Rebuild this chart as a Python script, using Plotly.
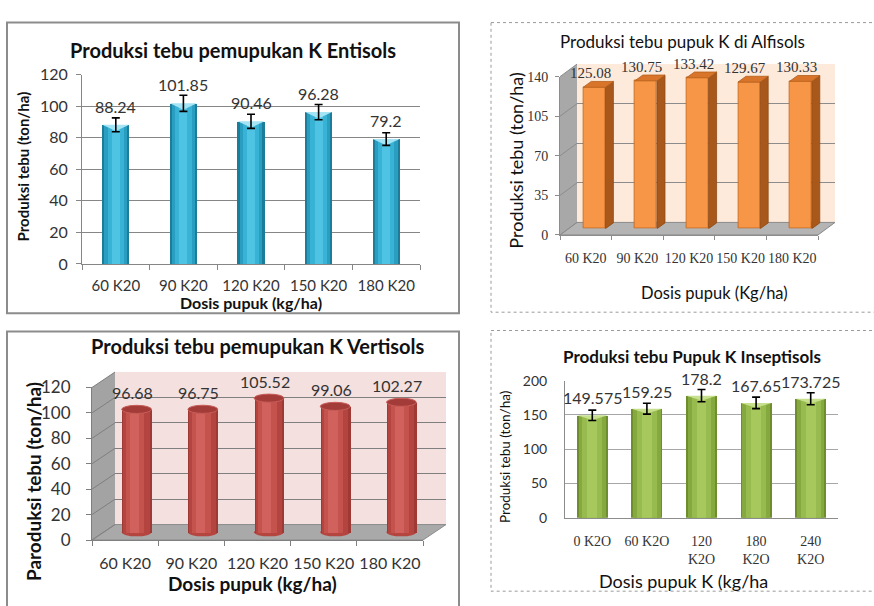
import plotly.graph_objects as go

W, H = 874, 606

# ------------------------------------------------------------------ data
entisol_doses = ["60 K20", "90 K20", "120 K20", "150 K20", "180 K20"]
entisol_yield = [88.24, 101.85, 90.46, 96.28, 79.2]
entisol_err = [4.4, 5.1, 4.5, 4.8, 4.0]

alfisol_doses = ["60 K20", "90 K20", "120 K20", "150 K20", "180 K20"]
alfisol_yield = [125.08, 130.75, 133.42, 129.67, 130.33]

vertisol_doses = ["60 K20", "90 K20", "120 K20", "150 K20", "180 K20"]
vertisol_yield = [96.68, 96.75, 105.52, 99.06, 102.27]

inseptisol_doses = ["0 K2O", "60 K2O", "120<br>K2O", "180<br>K2O", "240<br>K2O"]
inseptisol_yield = [149.575, 159.25, 178.2, 167.65, 173.725]
inseptisol_err = [7.5, 8.0, 8.9, 8.4, 8.7]

SANS = "Lato, 'Open Sans', sans-serif"
SERIF = "'Liberation Serif', 'DejaVu Serif', serif"
INK = "#111111"
TICK_INK = "#333333"

cats = list(range(5))
XR = [-0.5, 4.5]
BOUNDS = [k - 0.5 for k in range(6)]


def fx(px):
    return px / W


def fy(py):
    return 1 - py / H


fig = go.Figure()
layout_axes = {}
annotations = []
shapes = []


def add_axes(n, left, right, top, bottom, xrange, yrange, xopts=None, yopts=None):
    xid = "x" if n == 1 else f"x{n}"
    yid = "y" if n == 1 else f"y{n}"
    base = dict(showgrid=False, zeroline=False, showticklabels=False, ticks="",
                showline=False, fixedrange=True)
    xa = dict(base, domain=[fx(left), fx(right)], range=xrange, anchor=yid)
    ya = dict(base, domain=[fy(bottom), fy(top)], range=yrange, anchor=xid)
    xa.update(xopts or {})
    ya.update(yopts or {})
    layout_axes["xaxis" if n == 1 else f"xaxis{n}"] = xa
    layout_axes["yaxis" if n == 1 else f"yaxis{n}"] = ya
    # anchor trace so the subplot is always created
    fig.add_trace(go.Scatter(x=[0], y=[0], mode="markers", marker=dict(size=1, opacity=0),
                             xaxis=xid, yaxis=yid, hoverinfo="skip"))
    return xid, yid


def shaded_bars(xid, yid, values, layers):
    for width, color, shift in layers:
        fig.add_trace(go.Bar(x=cats, y=values, width=width, offset=-width / 2 + shift,
                             marker=dict(color=color, line=dict(width=0)),
                             xaxis=xid, yaxis=yid, hoverinfo="skip"))


def bevel(xid, yid, values, width, depth, color):
    xs, ys = [], []
    for i, v in enumerate(values):
        xs += [i - width / 2, i + width / 2, i, i - width / 2, None]
        ys += [v, v, v - depth, v, None]
    fig.add_trace(go.Scatter(x=xs, y=ys, mode="lines", fill="toself", fillcolor=color,
                             line=dict(width=0), xaxis=xid, yaxis=yid, hoverinfo="skip"))


def error_marks(xid, yid, values, errs):
    fig.add_trace(go.Scatter(x=cats, y=values, mode="markers",
                             marker=dict(size=2, color="rgba(0,0,0,0)"),
                             error_y=dict(type="data", array=errs, color="#000000",
                                          thickness=1.6, width=4),
                             xaxis=xid, yaxis=yid, hoverinfo="skip"))


def value_labels(xid, yid, values, family, size, yshift, xshift=0):
    for i, v in enumerate(values):
        annotations.append(dict(x=i, y=v, xref=xid, yref=yid, text=str(v), showarrow=False,
                                xanchor="center", yanchor="bottom", yshift=yshift,
                                xshift=xshift, font=dict(family=family, size=size, color=TICK_INK)))


def text(x, y, s, size, bold=False, angle=0, family=SANS):
    annotations.append(dict(x=fx(x), y=fy(y), xref="paper", yref="paper", showarrow=False,
                            text=f"<b>{s}</b>" if bold else s, textangle=angle,
                            xanchor="center", yanchor="middle",
                            font=dict(family=family, size=size, color=INK)))


def frame(x0, y0, x1, y1, color, width, dash="solid"):
    shapes.append(dict(type="rect", xref="paper", yref="paper", x0=fx(x0), y0=fy(y0),
                       x1=fx(x1), y1=fy(y1), line=dict(color=color, width=width, dash=dash),
                       fillcolor="rgba(0,0,0,0)", layer="below"))


def room(front, depth, ymax, dtick, back_color, side_color, floor_color, grid_color):
    """Back wall, side wall and floor of a 3-D column chart (paper coordinates)."""
    x0, x1, yt, yb = front
    dx, dy = depth
    shapes.append(dict(type="rect", xref="paper", yref="paper", x0=fx(x0 + dx), x1=fx(x1 + dx),
                       y0=fy(yb + dy), y1=fy(yt + dy), fillcolor=back_color,
                       line=dict(width=0), layer="below"))
    side = (f"M{fx(x0)},{fy(yb)} L{fx(x0)},{fy(yt)} L{fx(x0 + dx)},{fy(yt + dy)} "
            f"L{fx(x0 + dx)},{fy(yb + dy)} Z")
    shapes.append(dict(type="path", path=side, xref="paper", yref="paper",
                       fillcolor=side_color, line=dict(width=0), layer="below"))
    floor = (f"M{fx(x0)},{fy(yb)} L{fx(x1)},{fy(yb)} L{fx(x1 + dx)},{fy(yb + dy)} "
             f"L{fx(x0 + dx)},{fy(yb + dy)} Z")
    shapes.append(dict(type="path", path=floor, xref="paper", yref="paper",
                       fillcolor=floor_color, line=dict(color="#8a8a8a", width=1), layer="below"))
    for v in range(0, ymax + 1, dtick):
        py = yb - (yb - yt) * v / ymax
        shapes.append(dict(type="line", xref="paper", yref="paper", x0=fx(x0), y0=fy(py),
                           x1=fx(x0 + dx), y1=fy(py + dy),
                           line=dict(color=grid_color, width=1), layer="below"))


# ================================================================ panel 1: Entisols
frame(7, 12, 459, 313, "#8c8c8c", 2)
g1 = "#868686"
x1, y1 = add_axes(
    1, 82, 420, 66, 262, XR, [0, 120],
    xopts=dict(showline=True, linecolor=g1, showticklabels=True, tickmode="array",
               tickvals=cats, ticktext=entisol_doses, ticks="outside", ticklen=8,
               tickcolor="rgba(0,0,0,0)", tickfont=dict(family=SANS, size=15, color=TICK_INK),
               minor=dict(tickmode="array", tickvals=BOUNDS, ticks="outside", ticklen=5,
                          tickcolor=g1)),
    yopts=dict(showline=True, linecolor=g1, showgrid=True, gridcolor=g1, showticklabels=True,
               tickmode="linear", tick0=0, dtick=20, ticks="outside", ticklen=5, tickcolor=g1,
               tickfont=dict(family=SANS, size=16, color=TICK_INK), ticklabelstandoff=5))
shaded_bars(x1, y1, entisol_yield, [(0.40, "#1b7d99", 0), (0.34, "#2a9ec0", 0),
                                    (0.24, "#38b2d5", 0), (0.12, "#4fc3e3", 0)])
bevel(x1, y1, entisol_yield, 0.40, 4.0, "#a4e4f4")
error_marks(x1, y1, entisol_yield, entisol_err)
value_labels(x1, y1, entisol_yield, SANS, 16, 7)
text(233, 40, "Produksi tebu pemupukan K Entisols", 20, bold=True)
text(23, 161, "Produksi tebu (ton/ha)", 15, bold=True, angle=-90)
text(251, 302, "Dosis pupuk (kg/ha)", 16, bold=True)

# ================================================================ panel 2: Alfisols (3-D)
frame(491, 12, 890, 312, "#9a9a9a", 1, "dot")
F2, D2, YM2, DT2 = (560, 818, 68, 232), (17, -13), 140, 35
room(F2, D2, YM2, DT2, "#fdeadb", "#a8a8a8", "#b4b4b4", "#8c8c8c")
add_axes(2, F2[0] + D2[0], F2[1] + D2[0], F2[2] + D2[1], F2[3] + D2[1], XR, [0, YM2],
         yopts=dict(showgrid=True, gridcolor="#8c8c8c", tickmode="linear", tick0=0, dtick=DT2))
add_axes(3, F2[0], F2[1], F2[2], F2[3], XR, [0, YM2],
         xopts=dict(showline=True, linecolor="#8c8c8c", showticklabels=True, tickmode="array",
                    tickvals=cats, ticktext=alfisol_doses, ticks="outside", ticklen=10,
                    tickcolor="rgba(0,0,0,0)",
                    tickfont=dict(family=SERIF, size=14, color=TICK_INK),
                    minor=dict(tickmode="array", tickvals=BOUNDS, ticks="outside", ticklen=4,
                               tickcolor="#8c8c8c")),
         yopts=dict(showline=True, linecolor="#8c8c8c", showticklabels=True, tickmode="linear",
                    tick0=0, dtick=DT2, ticks="outside", ticklen=4, tickcolor="#8c8c8c",
                    tickfont=dict(family=SERIF, size=14, color=TICK_INK), ticklabelstandoff=4))
x4, y4 = add_axes(4, F2[0] + D2[0] / 2, F2[1] + D2[0] / 2, F2[2] + D2[1] / 2,
                  F2[3] + D2[1] / 2, XR, [0, YM2])
bw2 = 0.43
ox2, oy2 = 8 / ((F2[1] - F2[0]) / 5), 6 / ((F2[3] - F2[2]) / YM2)
fig.add_trace(go.Bar(x=cats, y=alfisol_yield, width=bw2,
                     marker=dict(color="#f79646", line=dict(color="#c0661f", width=0.8)),
                     xaxis=x4, yaxis=y4, hoverinfo="skip"))
top_x, top_y, side_x, side_y = [], [], [], []
for i, v in enumerate(alfisol_yield):
    l, r = i - bw2 / 2, i + bw2 / 2
    top_x += [l, r, r + ox2, l + ox2, l, None]
    top_y += [v, v, v + oy2, v + oy2, v, None]
    side_x += [r, r, r + ox2, r + ox2, r, None]
    side_y += [0, v, v + oy2, oy2, 0, None]
fig.add_trace(go.Scatter(x=side_x, y=side_y, mode="lines", fill="toself", fillcolor="#a9581b",
                         line=dict(color="#8f4a16", width=0.8), xaxis=x4, yaxis=y4,
                         hoverinfo="skip"))
fig.add_trace(go.Scatter(x=top_x, y=top_y, mode="lines", fill="toself", fillcolor="#d9752a",
                         line=dict(color="#b45f1d", width=0.8), xaxis=x4, yaxis=y4,
                         hoverinfo="skip"))
value_labels(x4, y4, alfisol_yield, SERIF, 15, 4, xshift=-4)
text(682, 32, "Produksi tebu pupuk K di Alfisols", 17)
text(516, 155, "Produksi tebu (ton/ha)", 18, angle=-90)
text(714, 292, "Dosis pupuk (Kg/ha)", 16.5)

# ================================================================ panel 3: Vertisols (3-D cylinders)
frame(7, 332, 459, 640, "#8c8c8c", 2)
F3, D3, YM3, DT3 = (92, 423, 390, 548), (23, -16), 120, 20
room(F3, D3, YM3, DT3, "#f3e0df", "#a3a3a3", "#a9a9a9", "#7f7f7f")
add_axes(5, F3[0] + D3[0], F3[1] + D3[0], F3[2] + D3[1], F3[3] + D3[1], XR, [0, YM3],
         yopts=dict(showgrid=True, gridcolor="#7f7f7f", tickmode="linear", tick0=0, dtick=DT3))
add_axes(6, F3[0], F3[1], F3[2], F3[3], XR, [0, YM3],
         xopts=dict(showline=True, linecolor="#7f7f7f", showticklabels=True, tickmode="array",
                    tickvals=cats, ticktext=vertisol_doses, ticks="outside", ticklen=9,
                    tickcolor="rgba(0,0,0,0)", tickfont=dict(family=SANS, size=16, color=TICK_INK),
                    minor=dict(tickmode="array", tickvals=BOUNDS, ticks="outside", ticklen=5,
                               tickcolor="#7f7f7f")),
         yopts=dict(showline=True, linecolor="#7f7f7f", showticklabels=True, tickmode="linear",
                    tick0=0, dtick=DT3, ticks="outside", ticklen=5, tickcolor="#7f7f7f",
                    tickfont=dict(family=SANS, size=17, color=TICK_INK), ticklabelstandoff=12))
scale3 = (F3[3] - F3[2]) / YM3
ylo3 = -8
mid_bot = F3[3] + D3[1] / 2
x7, y7 = add_axes(7, F3[0] + D3[0] / 2, F3[1] + D3[0] / 2, F3[2] + D3[1] / 2,
                  mid_bot - ylo3 * scale3, XR, [ylo3, YM3])
cw3, eh3 = 0.45, 3.2
for i in cats:
    shapes.append(dict(type="circle", xref=x7, yref=y7, x0=i - cw3 / 2, x1=i + cw3 / 2,
                       y0=-eh3, y1=eh3, fillcolor="#b5453f", line=dict(width=0), layer="below"))
shaded_bars(x7, y7, vertisol_yield, [(cw3, "#9e3936", 0), (0.40, "#b4443f", -0.01),
                                     (0.28, "#c4524d", -0.03), (0.14, "#d0615c", -0.04)])
for i, v in enumerate(vertisol_yield):
    shapes.append(dict(type="circle", xref=x7, yref=y7, x0=i - cw3 / 2, x1=i + cw3 / 2,
                       y0=v - eh3, y1=v + eh3, fillcolor="#a33c39",
                       line=dict(color="#c85c57", width=1), layer="above"))
value_labels(x7, y7, vertisol_yield, SANS, 16, 5, xshift=-4)
text(258, 347, "Produksi tebu pemupukan K Vertisols", 20, bold=True)
text(33, 488, "Paroduksi tebu (ton/ha)", 19, bold=True, angle=-90)
text(252, 593, "Dosis pupuk (kg/ha)", 19, bold=True)

# ================================================================ panel 4: Inseptisols
frame(491, 331, 890, 601, "#9a9a9a", 1, "dot")
g4 = "#a6a6a6"
x8, y8 = add_axes(
    8, 565, 838, 383, 525, XR, [0, 200],
    xopts=dict(showline=True, linecolor="#8c8c8c", showticklabels=True, tickmode="array",
               tickvals=cats, ticktext=inseptisol_doses, ticks="outside", ticklen=10,
               tickcolor="rgba(0,0,0,0)", tickfont=dict(family=SERIF, size=14, color=TICK_INK)),
    yopts=dict(showline=True, linecolor="#8c8c8c", showgrid=True, gridcolor=g4,
               showticklabels=True, tickmode="linear", tick0=0, dtick=50,
               tickfont=dict(family=SANS, size=14, color=TICK_INK), ticklabelstandoff=14))
shaded_bars(x8, y8, inseptisol_yield, [(0.57, "#6e8e2d", 0), (0.50, "#86a93f", 0),
                                       (0.36, "#98bb4f", 0), (0.18, "#a6c85c", 0)])
bevel(x8, y8, inseptisol_yield, 0.57, 7.0, "#c6e08e")
error_marks(x8, y8, inseptisol_yield, inseptisol_err)
value_labels(x8, y8, inseptisol_yield, SANS, 16, 6)
text(692, 358, "Produksi tebu Pupuk K Inseptisols", 17, bold=True)
text(505, 462, "Produksi tebu (ton/ha)", 13.5, angle=-90)
text(683, 590, "Dosis pupuk K (kg/ha", 18)

fig.update_layout(
    width=W, height=H, margin=dict(l=0, r=0, t=0, b=0),
    paper_bgcolor="white", plot_bgcolor="rgba(0,0,0,0)",
    barmode="overlay", bargap=0, showlegend=False,
    annotations=annotations, shapes=shapes, **layout_axes,
)
fig.write_html("out.html")
